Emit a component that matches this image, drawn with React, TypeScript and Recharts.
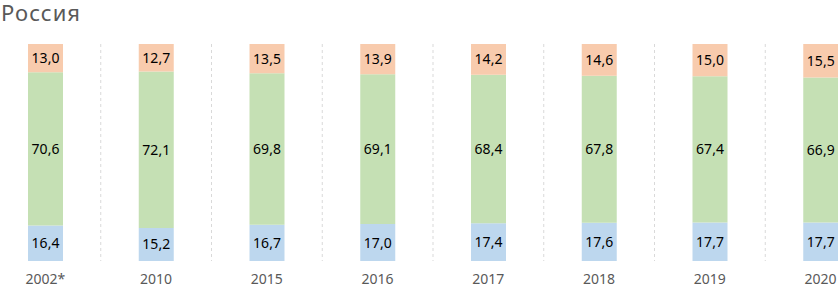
import { Bar, BarChart, CartesianGrid, LabelList, XAxis, YAxis } from "recharts";

const years = ["2002*", "2010", "2015", "2016", "2017", "2018", "2019", "2020"];
const bottomShare = [16.4, 15.2, 16.7, 17.0, 17.4, 17.6, 17.7, 17.7];
const middleShare = [70.6, 72.1, 69.8, 69.1, 68.4, 67.8, 67.4, 66.9];
const topShare = [13.0, 12.7, 13.5, 13.9, 14.2, 14.6, 15.0, 15.5];

const data = years.map((year, i) => ({
  year,
  low: bottomShare[i],
  mid: middleShare[i],
  high: topShare[i],
}));

const FONT = "'Noto Sans', 'DejaVu Sans', sans-serif";
const fmt = (v: unknown) => Number(v).toFixed(1).replace(".", ",");
const labelStyle = { fontSize: 14, fill: "#000", fontFamily: FONT };

export default function App() {
  return (
    <div
      style={{
        position: "absolute",
        left: 0,
        top: 0,
        width: 838,
        height: 288,
        overflow: "hidden",
        background: "#fff",
        fontFamily: FONT,
      }}
    >
      <div
        style={{
          position: "absolute",
          left: 1,
          top: 0,
          fontSize: 22,
          letterSpacing: 1,
          color: "#595959",
          lineHeight: "24px",
        }}
      >
        Россия
      </div>
      <div style={{ position: "absolute", left: -10, top: 0 }}>
        <BarChart
          width={886}
          height={288}
          data={data}
          margin={{ top: 44, right: 0, bottom: 0, left: 0 }}
          barSize={35}
        >
          <CartesianGrid
            horizontal={false}
            stroke="#D9D9D9"
            strokeDasharray="3 3"
            verticalCoordinatesGenerator={({ offset }: any) =>
              Array.from({ length: 9 }, (_, i) => offset.left + (i * offset.width) / 8)
            }
          />
          <XAxis
            dataKey="year"
            height={27}
            axisLine={false}
            tickLine={false}
            tickMargin={7}
            interval={0}
            tick={{ fontSize: 14, fill: "#595959", fontFamily: FONT }}
          />
          <YAxis hide domain={[0, 100]} allowDataOverflow />
          <Bar dataKey="low" stackId="a" fill="#BDD7EE" isAnimationActive={false}>
            <LabelList dataKey="low" position="center" formatter={fmt} style={labelStyle} />
          </Bar>
          <Bar dataKey="mid" stackId="a" fill="#C5E0B4" isAnimationActive={false}>
            <LabelList dataKey="mid" position="center" formatter={fmt} style={labelStyle} />
          </Bar>
          <Bar dataKey="high" stackId="a" fill="#F8CBAD" isAnimationActive={false}>
            <LabelList dataKey="high" position="center" formatter={fmt} style={labelStyle} />
          </Bar>
        </BarChart>
      </div>
    </div>
  );
}
